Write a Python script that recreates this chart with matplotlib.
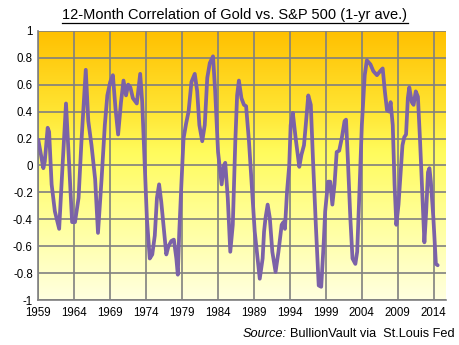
import numpy as np
import matplotlib
matplotlib.use('Agg')
import matplotlib.pyplot as plt
from matplotlib.colors import LinearSegmentedColormap

plt.rcParams['font.family'] = ['Liberation Sans', 'DejaVu Sans']

# values (decimal year, correlation)
years = [1959.0, 1959.7, 1959.9, 1960.3, 1960.5, 1960.85, 1961.3, 1961.9, 1962.3, 1962.85,
         1963.2, 1963.7, 1964.1, 1964.6, 1965.0, 1965.6, 1965.95, 1966.4, 1966.9, 1967.3,
         1967.8, 1968.25, 1968.6, 1969.0, 1969.37, 1969.74, 1970.1, 1970.5, 1970.85, 1971.2,
         1971.5, 1971.8, 1972.15, 1972.7, 1973.17, 1973.45, 1973.8, 1974.1, 1974.5, 1974.85,
         1975.2, 1975.5, 1975.8, 1976.1, 1976.4, 1976.8, 1977.1, 1977.5, 1977.85, 1978.2,
         1978.4, 1978.6, 1978.9, 1979.2, 1979.55, 1979.9, 1980.3, 1980.76, 1981.1, 1981.4,
         1981.8, 1982.15, 1982.5, 1982.85, 1983.3, 1983.6, 1984.0, 1984.5, 1984.8, 1985.0,
         1985.35, 1985.7, 1986.05, 1986.4, 1986.65, 1986.9, 1987.25, 1987.6, 1987.9, 1988.3,
         1988.8, 1989.1, 1989.5, 1989.8, 1990.2, 1990.4, 1990.6, 1990.9, 1991.2, 1991.55,
         1992.0, 1992.4, 1992.85, 1993.1, 1993.3, 1993.6, 1993.9, 1994.1, 1994.4, 1994.8,
         1995.3, 1995.6, 1995.95, 1996.2, 1996.55, 1996.9, 1997.2, 1997.6, 1998.0, 1998.35,
         1998.7, 1998.9, 1999.3, 1999.6, 1999.9, 2000.2, 2000.5, 2000.85, 2001.2, 2001.6,
         2001.8, 2002.05, 2002.4, 2002.7, 2003.1, 2003.35, 2003.6, 2004.0, 2004.4, 2004.7,
         2005.2, 2005.6, 2006.1, 2006.55, 2006.9, 2007.2, 2007.5, 2007.8, 2008.0, 2008.3,
         2008.55, 2008.8, 2009.1, 2009.4, 2009.65, 2009.9, 2010.15, 2010.4, 2010.6, 2010.95,
         2011.2, 2011.5, 2011.8, 2012.1, 2012.4, 2012.7, 2012.95, 2013.2, 2013.4, 2013.6,
         2013.95, 2014.2, 2014.3, 2014.55]
corr = [0.19, -0.02, 0.03, 0.28, 0.25, -0.14, -0.34, -0.47, -0.07, 0.46,
        0.10, -0.42, -0.42, -0.24, 0.18, 0.71, 0.33, 0.15, -0.10, -0.50,
        -0.10, 0.30, 0.52, 0.62, 0.67, 0.42, 0.23, 0.47, 0.63, 0.52,
        0.60, 0.58, 0.50, 0.46, 0.68, 0.47, 0.0, -0.39, -0.69, -0.66,
        -0.52, -0.24, -0.14, -0.27, -0.44, -0.66, -0.60, -0.56, -0.55, -0.69,
        -0.81, -0.50, -0.14, 0.20, 0.31, 0.40, 0.62, 0.68, 0.55, 0.30,
        0.18, 0.30, 0.65, 0.76, 0.81, 0.55, 0.10, -0.14, 0.0, 0.02,
        -0.24, -0.64, -0.44, 0.18, 0.52, 0.63, 0.50, 0.45, 0.44, 0.18,
        -0.24, -0.49, -0.69, -0.84, -0.69, -0.49, -0.39, -0.29, -0.39, -0.64,
        -0.79, -0.64, -0.44, -0.42, -0.47, -0.19, 0.0, 0.30, 0.39, 0.20,
        -0.01, 0.08, 0.15, 0.30, 0.52, 0.45, 0.05, -0.44, -0.89, -0.90,
        -0.57, -0.34, -0.12, -0.12, -0.29, -0.14, 0.10, 0.11, 0.20, 0.33,
        0.34, 0.05, -0.39, -0.69, -0.73, -0.64, -0.29, 0.30, 0.67, 0.78,
        0.75, 0.70, 0.67, 0.70, 0.72, 0.55, 0.41, 0.40, 0.47, 0.30,
        -0.14, -0.44, -0.29, -0.05, 0.15, 0.21, 0.23, 0.50, 0.58, 0.47,
        0.45, 0.55, 0.51, 0.18, -0.19, -0.57, -0.34, -0.05, -0.02, -0.12,
        -0.39, -0.64, -0.73, -0.74]
tick_years = list(range(1959, 2015, 5))

fig = plt.figure(figsize=(4.6, 3.45), dpi=100)
ax = fig.add_axes([0.0833, 0.1296, 0.8857, 0.7814])

xmin, xmax = 1959, 2015.67

# gradient background, orange at top fading to pale cream at the bottom
cmap = LinearSegmentedColormap.from_list('bg', [
    (0.0, '#FFC000'), (0.3, '#FFE533'), (0.45, '#FFFB5C'),
    (0.7, '#FFFF99'), (1.0, '#FFFFE0')])
grad = np.linspace(0, 1, 256).reshape(-1, 1)
ax.imshow(grad, cmap=cmap, aspect='auto', extent=[xmin, xmax, -1, 1],
          origin='upper', zorder=0)

ax.plot(years, corr, color='#7B62A8', lw=2.7, solid_joinstyle='round',
        solid_capstyle='round', zorder=3)

ax.set_xlim(xmin, xmax)
ax.set_ylim(-1, 1)
ax.set_xticks(tick_years)
ax.set_yticks(np.arange(-1, 1.01, 0.2))
ax.set_yticklabels(['-1', '-0.8', '-0.6', '-0.4', '-0.2', '0', '0.2', '0.4', '0.6', '0.8', '1'])
ax.set_axisbelow(True)
ax.grid(True, color='#808080', lw=1.2)
ax.tick_params(length=0, labelsize=8.3, pad=5)
ax.tick_params(axis='y', pad=4)
for s in ['top', 'right']:
    ax.spines[s].set_visible(False)
for s in ['left', 'bottom']:
    ax.spines[s].set_color('#808080')
    ax.spines[s].set_linewidth(1.2)

title = fig.text(235 / 460, 1 - 15 / 345, '12-Month Correlation of Gold vs. S&P 500 (1-yr ave.)',
                 ha='center', va='center', fontsize=10.5)

src = fig.text(455 / 460, 1 - 334 / 345, 'BullionVault via  St.Louis Fed',
               ha='right', va='center', fontsize=9.2)

fig.canvas.draw()
r = fig.canvas.get_renderer()

# underline the title
tb = title.get_window_extent(r)
fig.add_artist(plt.Line2D([tb.x0 / 460, tb.x1 / 460], [(tb.y0 - 1) / 345] * 2,
                          color='black', lw=0.9, transform=fig.transFigure))

# italic "Source:" to the left of the source text
sb = src.get_window_extent(r)
fig.text((sb.x0 - 4) / 460, 1 - 334 / 345, 'Source:', style='italic',
         ha='right', va='center', fontsize=9.2)

fig.savefig('out.png', dpi=100)
